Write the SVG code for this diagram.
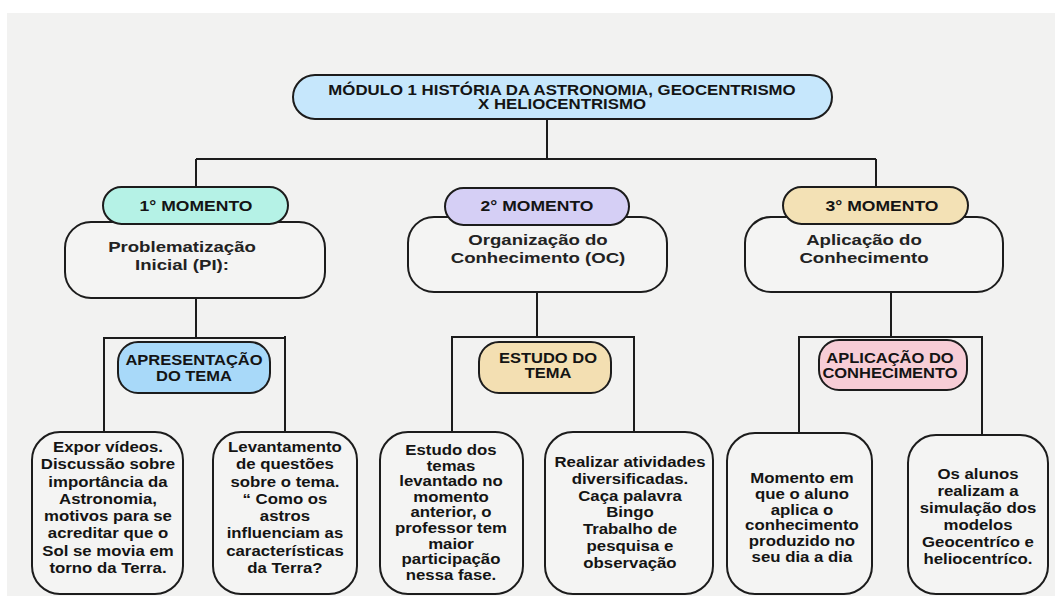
<svg xmlns="http://www.w3.org/2000/svg" width="1055" height="596" viewBox="0 0 1055 596">
<style>
.box{fill:#f4f4f3;stroke:#1c1c1c;stroke-width:2}
.ln{fill:none;stroke:#1c1c1c;stroke-width:2}
text{fill:#141414;text-anchor:middle;transform-box:fill-box;transform-origin:center}
.ti{font-family:"Liberation Sans",Arial,sans-serif;font-weight:700;font-size:14px;transform:scaleX(1.2)}
.pl{font-family:"Liberation Sans",Arial,sans-serif;font-weight:700;font-size:15px;transform:scaleX(1.17)}
.md{font-family:"Liberation Sans",Arial,sans-serif;font-weight:700;font-size:15.5px;fill:#222;transform:scaleX(1.2)}
.tg{font-family:"Liberation Sans",Arial,sans-serif;font-weight:700;font-size:15px;transform:scaleX(1.1)}
.lf{font-family:"Liberation Sans",Arial,sans-serif;font-weight:700;font-size:15px;transform:scaleX(1.12)}
</style>
<rect x="0" y="0" width="1055" height="596" fill="#ffffff"/>
<rect x="7" y="13" width="1048" height="583" fill="#f2f2f1"/>
<g id="connectors">
<path class="ln" d="M547,119 V159 M196,159 H876 M196,159 V187 M876,159 V187"/>
<path class="ln" d="M196,298 V338 M104,338 H285 M104,337 V432 M285,336 V432"/>
<path class="ln" d="M537,292 V337 M452,337 H634 M452,336 V432 M634,336 V432"/>
<path class="ln" d="M891,292 V337 M799,337 H982 M799,336 V433 M982,336 V435"/>
</g>
<g id="title">
<rect x="293" y="75" width="539" height="44" rx="22" fill="#c6e7fc" stroke="#1c1c1c" stroke-width="2"/>
<text class="ti" x="562" y="95">MÓDULO 1 HISTÓRIA DA ASTRONOMIA, GEOCENTRISMO</text>
<text class="ti" x="562" y="109.5">X HELIOCENTRISMO</text>
</g>
<g id="box1">
<rect class="box" x="65" y="222" width="260" height="76" rx="26"/>
<text class="md" x="182" y="252">Problematização</text>
<text class="md" x="182" y="270">Inicial (PI):</text>
</g>
<g id="pill1">
<rect x="103" y="187" width="185" height="37" rx="18.5" fill="#b5f2e6" stroke="#1c1c1c" stroke-width="2"/>
<text class="pl" x="196" y="211">1° MOMENTO</text>
</g>
<g id="box2">
<rect class="box" x="408" y="217" width="259" height="75" rx="26"/>
<text class="md" x="538" y="245">Organização do</text>
<text class="md" x="538" y="263">Conhecimento (OC)</text>
</g>
<g id="pill2">
<rect x="445" y="188" width="184" height="37" rx="18.5" fill="#d5cff5" stroke="#1c1c1c" stroke-width="2"/>
<text class="pl" x="537" y="211">2° MOMENTO</text>
</g>
<g id="box3">
<rect class="box" x="745" y="217" width="258" height="75" rx="26"/>
<text class="md" x="864" y="245">Aplicação do</text>
<text class="md" x="864" y="263">Conhecimento</text>
</g>
<g id="pill3">
<rect x="783" y="187" width="185" height="37" rx="18.5" fill="#f3e1b5" stroke="#1c1c1c" stroke-width="2"/>
<text class="pl" x="882" y="211">3° MOMENTO</text>
</g>
<g id="tag1">
<rect x="118" y="342" width="152" height="51" rx="20" fill="#a8d9f9" stroke="#1c1c1c" stroke-width="2"/>
<text class="tg" x="194" y="365">APRESENTAÇÃO</text>
<text class="tg" x="194" y="381">DO TEMA</text>
</g>
<g id="tag2">
<rect x="479" y="342" width="132" height="51" rx="20" fill="#f3dfb2" stroke="#1c1c1c" stroke-width="2"/>
<text class="tg" x="548" y="363">ESTUDO DO</text>
<text class="tg" x="548" y="378">TEMA</text>
</g>
<g id="tag3">
<rect x="819" y="340" width="148" height="50" rx="20" fill="#f7cdd6" stroke="#1c1c1c" stroke-width="2"/>
<text class="tg" x="890" y="363">APLICAÇÃO DO</text>
<text class="tg" x="890" y="378">CONHECIMENTO</text>
</g>
<g id="leafA">
<rect class="box" x="32" y="432" width="151" height="162" rx="28"/>
<text class="lf" x="108"><tspan x="108" y="452">Expor vídeos.</tspan><tspan x="108" y="469.3">Discussão sobre</tspan><tspan x="108" y="486.6">importância da</tspan><tspan x="108" y="503.9">Astronomia,</tspan><tspan x="108" y="521.2">motivos para se</tspan><tspan x="108" y="538.5">acreditar que o</tspan><tspan x="108" y="555.8">Sol se movia em</tspan><tspan x="108" y="573.1">torno da Terra.</tspan></text>
</g>
<g id="leafB">
<rect class="box" x="213" y="432" width="144" height="162" rx="28"/>
<text class="lf" x="285"><tspan x="285" y="452">Levantamento</tspan><tspan x="285" y="469.3">de questões</tspan><tspan x="285" y="486.6">sobre o tema.</tspan><tspan x="285" y="503.9">“ Como os</tspan><tspan x="285" y="521.2">astros</tspan><tspan x="285" y="538.5">influenciam as</tspan><tspan x="285" y="555.8">características</tspan><tspan x="285" y="573.1">da Terra?</tspan></text>
</g>
<g id="leafC">
<rect class="box" x="380" y="432" width="143" height="162" rx="28"/>
<text class="lf" x="451"><tspan x="451" y="455">Estudo dos</tspan><tspan x="451" y="470.6">temas</tspan><tspan x="451" y="486.2">levantado no</tspan><tspan x="451" y="501.8">momento</tspan><tspan x="451" y="517.4">anterior, o</tspan><tspan x="451" y="533">professor tem</tspan><tspan x="451" y="548.6">maior</tspan><tspan x="451" y="564.2">participação</tspan><tspan x="451" y="579.8">nessa fase.</tspan></text>
</g>
<g id="leafD">
<rect class="box" x="545" y="432" width="168" height="162" rx="28"/>
<text class="lf" x="630"><tspan x="630" y="467">Realizar atividades</tspan><tspan x="630" y="483.8">diversificadas.</tspan><tspan x="630" y="500.6">Caça palavra</tspan><tspan x="630" y="517.4">Bingo</tspan><tspan x="630" y="534.2">Trabalho de</tspan><tspan x="630" y="551">pesquisa e</tspan><tspan x="630" y="567.8">observação</tspan></text>
</g>
<g id="leafE">
<rect class="box" x="727" y="433" width="145" height="161" rx="28"/>
<text class="lf" x="802"><tspan x="802" y="483">Momento em</tspan><tspan x="802" y="498.8">que o aluno</tspan><tspan x="802" y="514.6">aplica o</tspan><tspan x="802" y="530.4">conhecimento</tspan><tspan x="802" y="546.2">produzido no</tspan><tspan x="802" y="562">seu dia a dia</tspan></text>
</g>
<g id="leafF">
<rect class="box" x="908" y="435" width="140" height="159" rx="28"/>
<text class="lf" x="978"><tspan x="978" y="479">Os alunos</tspan><tspan x="978" y="496">realizam a</tspan><tspan x="978" y="513">simulação dos</tspan><tspan x="978" y="530">modelos</tspan><tspan x="978" y="547">Geocentríco e</tspan><tspan x="978" y="564">heliocentríco.</tspan></text>
</g>
</svg>
